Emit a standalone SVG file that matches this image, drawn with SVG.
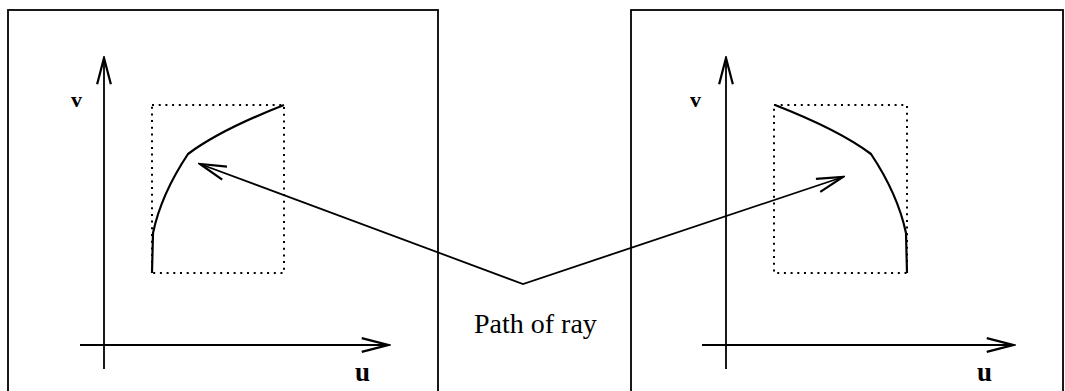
<svg xmlns="http://www.w3.org/2000/svg" width="1065" height="391" viewBox="0 0 1065 391">
<style>
.frame{fill:none;stroke:#000;stroke-width:1.8}
.axis{fill:none;stroke:#000;stroke-width:1.8;marker-end:url(#arr)}
.dots{fill:none;stroke:#000;stroke-width:2;stroke-dasharray:2 4.7}
.curve{fill:none;stroke:#000;stroke-width:2.2;stroke-linejoin:round}
.ray{fill:none;stroke:#000;stroke-width:1.8}
.lbl{font-family:"Liberation Serif","Times New Roman",serif;fill:#000}
</style>
<defs>
<marker id="arr" markerUnits="userSpaceOnUse" markerWidth="30" markerHeight="20" viewBox="-22 -8 24 16" refX="0" refY="0" orient="auto-start-reverse">
<path d="M-21,-5.5 L0,0 L-21,5.5" fill="none" stroke="#000" stroke-width="1.8"/>
</marker>
</defs>
<rect width="1065" height="391" fill="#fff"/>
<g id="left-panel">
<rect class="frame" x="8" y="10" width="430" height="392"/>
<line class="axis" x1="104" y1="369" x2="104" y2="58"/>
<line class="axis" x1="80" y1="345" x2="388" y2="345"/>
<rect class="dots" x="152" y="105" width="132" height="168"/>
<path class="curve" d="M284,105 Q220,130 188,154 C176,172 160,200 153,233 L152,273"/>
<text class="lbl" x="71" y="107" font-size="22" font-weight="bold">v</text>
<text class="lbl" x="355" y="381" font-size="27" font-weight="bold">u</text>
</g>
<g id="right-panel">
<rect class="frame" x="631" y="10" width="432" height="392"/>
<line class="axis" x1="726" y1="369" x2="726" y2="58"/>
<line class="axis" x1="702" y1="345" x2="1013" y2="345"/>
<rect class="dots" x="774" y="105" width="133" height="168"/>
<path class="curve" d="M775,105 Q839,130 871,154 C883,172 899,200 906,233 L907,273"/>
<text class="lbl" x="690" y="107" font-size="22" font-weight="bold">v</text>
<text class="lbl" x="977" y="381" font-size="27" font-weight="bold">u</text>
</g>
<g id="connectors">
<path class="ray" d="M200,164 L523,284 L843,177" marker-start="url(#arr)" marker-end="url(#arr)"/>
</g>
<g id="label">
<text class="lbl" x="474" y="333" font-size="28">Path of ray</text>
</g>
</svg>
